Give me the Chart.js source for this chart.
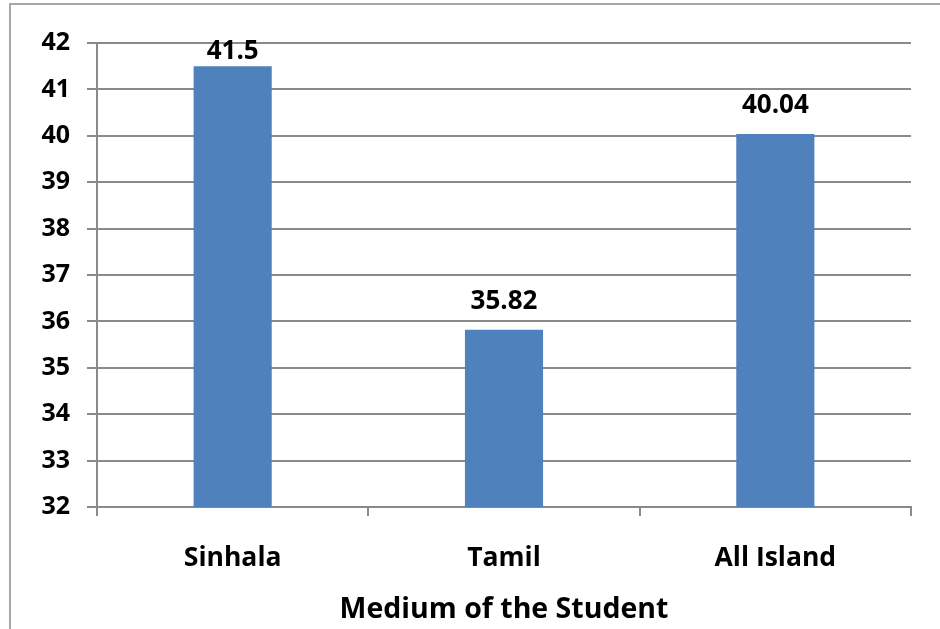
<!DOCTYPE html>
<html>
<head>
<meta charset="utf-8">
<script src="https://cdn.jsdelivr.net/npm/chart.js@4/dist/chart.umd.min.js"></script>
<style>
  html, body { margin: 0; padding: 0; background: #fff; }
  #wrap { width: 940px; height: 629px; position: relative; }
</style>
</head>
<body>
<div id="wrap"><canvas id="chart"></canvas></div>
<script>
const categories = ['Sinhala', 'Tamil', 'All Island'];
const scores = [41.5, 35.82, 40.04];
const yMin = 32;
const yMax = 42;
const axisTitle = 'Medium of the Student';

const FONT = "'Open Sans', 'Liberation Sans', sans-serif";
const GRID = '#8a8a8a';

// light frame round the chart, top and left edges only
const framePlugin = {
  id: 'frame',
  beforeDraw(chart) {
    const ctx = chart.ctx;
    ctx.save();
    ctx.strokeStyle = '#a6a6a6';
    ctx.lineWidth = 2;
    ctx.beginPath();
    ctx.moveTo(10, chart.height);
    ctx.lineTo(10, 4);
    ctx.lineTo(chart.width, 4);
    ctx.stroke();
    ctx.restore();
  },
};

// value labels above each bar, kept inside the plot area
const valueLabels = {
  id: 'valueLabels',
  afterDatasetsDraw(chart) {
    const ctx = chart.ctx;
    const meta = chart.getDatasetMeta(0);
    const top = chart.chartArea.top;
    ctx.save();
    ctx.font = `bold 26px ${FONT}`;
    ctx.fillStyle = '#000';
    ctx.textAlign = 'center';
    ctx.textBaseline = 'middle';
    meta.data.forEach((bar, i) => {
      const y = Math.max(bar.y - 28, top + 9);
      ctx.fillText(String(scores[i]), bar.x, y);
    });
    ctx.restore();
  },
};

new Chart(document.getElementById('chart'), {
  type: 'bar',
  data: {
    labels: categories,
    datasets: [{
      data: scores,
      backgroundColor: '#4f81bd',
      borderWidth: 0,
      categoryPercentage: 1,
      barPercentage: 0.288,
    }],
  },
  options: {
    responsive: true,
    maintainAspectRatio: false,
    animation: false,
    layout: { padding: { top: 43, right: 29, left: 0, bottom: 0 } },
    plugins: {
      legend: { display: false },
      tooltip: { enabled: false },
    },
    scales: {
      x: {
        afterFit(scale) { scale.height = 122; },
        grid: { offset: true, drawOnChartArea: false, tickLength: 9, color: GRID, lineWidth: 2 },
        border: { color: GRID, width: 2 },
        ticks: { color: '#000', padding: 27, font: { family: FONT, size: 26.5, weight: 'bold' } },
        title: {
          display: true,
          text: axisTitle,
          color: '#000',
          font: { family: FONT, size: 28.5, weight: 'bold' },
          padding: { top: 0, bottom: 2 },
        },
      },
      y: {
        min: yMin,
        max: yMax,
        afterFit(scale) { scale.width = 97; },
        grid: { color: GRID, lineWidth: 2, tickLength: 10 },
        border: { color: GRID, width: 2 },
        ticks: { stepSize: 1, color: '#000', padding: 17, font: { family: FONT, size: 25, weight: 'bold' } },
      },
    },
  },
  plugins: [framePlugin, valueLabels],
});
</script>
</body>
</html>
